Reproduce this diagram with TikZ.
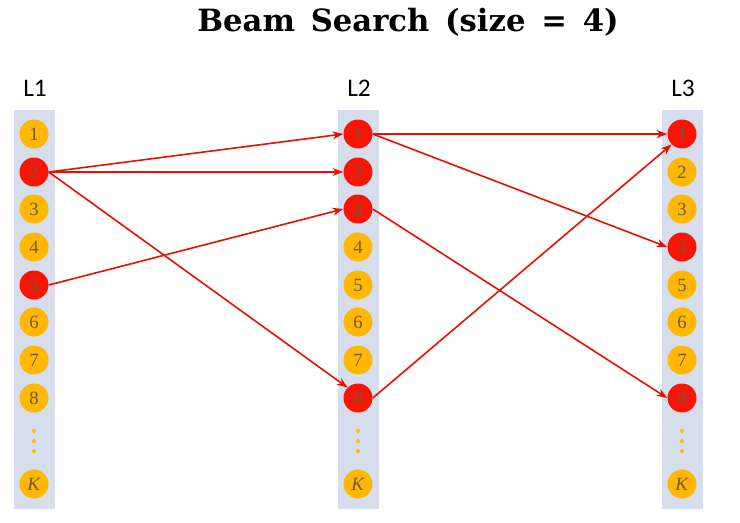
\documentclass[tikz,border=0pt]{standalone}
\usepackage{fontspec}
\setmainfont{Liberation Serif}
\newfontfamily\labfont{Carlito}
\newfontfamily\titlefont{DejaVu Serif}
\usetikzlibrary{arrows.meta}
\definecolor{barc}{RGB}{214,222,238}
\definecolor{gold}{RGB}{255,183,0}
\definecolor{redc}{RGB}{250,20,5}
\definecolor{numc}{RGB}{110,90,60}
\tikzset{
 ball/.style={circle,minimum size=29pt*0.75,inner sep=0pt,fill=gold,text=numc,font=\fontsize{14}{14}\selectfont},
 hot/.style={ball,fill=redc},
 bar/.style={fill=barc,draw=none},
 dotc/.style={circle,fill=gold,inner sep=0pt,minimum size=3pt},
 link/.style={draw=redc!90!black,line width=1.2pt,-{Stealth[length=8pt,width=6pt]}},
 lab/.style={font=\labfont\fontsize{19}{19}\selectfont}
}
\begin{document}
\begin{tikzpicture}[x=0.75pt,y=-0.75pt]
\useasboundingbox (0,0) rectangle (740,522);
\node[font=\titlefont\bfseries\fontsize{23}{23}\selectfont] (title) at (408,22) {Beam\, Search\, (size\, =\, 4)};
\foreach \c/\x/\hotA/\hotB/\hotC/\hotD in {1/34/2/5/0/0, 2/358/1/2/3/8, 3/682/1/4/8/0}{
  \fill[bar] (\x-20,110) rectangle (\x+21,509);
  \node[lab] (L\c) at (\x+1,88) {L\c};
  \foreach \i/\y in {1/134,2/172,3/209,4/247,5/285,6/322,7/360,8/398}{
    \pgfmathtruncatemacro\h{(\i==\hotA)||(\i==\hotB)||(\i==\hotC)||(\i==\hotD)}
    \ifnum\h=1
      \node[hot] (n\c-\i) at (\x,\y) {\i};
    \else
      \node[ball] (n\c-\i) at (\x,\y) {\i};
    \fi
  }
  \node[dotc] (da\c) at (\x,431) {};
  \node[dotc] (db\c) at (\x,441) {};
  \node[dotc] (dc\c) at (\x,451) {};
  \node[ball] (n\c-K) at (\x,484) {\textit{K}};
}
\draw[link] (n1-2.east) -- (n2-1.west);
\draw[link] (n1-2.east) -- (n2-2.west);
\draw[link] (n1-2.east) -- (n2-8.north west);
\draw[link] (n1-5.east) -- (n2-3.west);
\draw[link] (n2-1.east) -- (n3-1.west);
\draw[link] (n2-1.east) -- (n3-4.west);
\draw[link] (n2-3.east) -- (n3-8.west);
\draw[link] (n2-8.east) -- (n3-1.south west);
\end{tikzpicture}
\end{document}
